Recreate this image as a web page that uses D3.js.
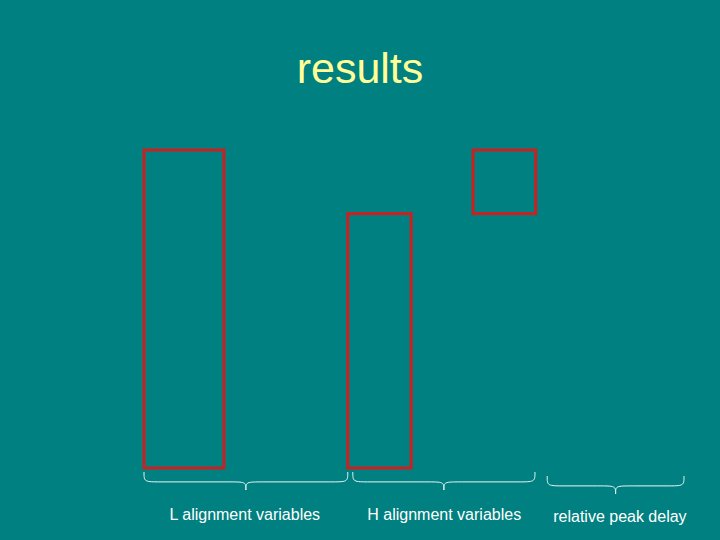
<!DOCTYPE html>
<html lang="en">
<head>
<meta charset="UTF-8">
<title>results</title>
<script src="https://d3js.org/d3.v7.min.js"></script>
<style>
  body { margin: 0; background: #008080; }
</style>
</head>
<body>
<script>
// boxes: start / end along x (slide units), bottom / top values
const boxNames = ["L", "H", "delay"];
const boxX0 = [2.0, 4.83, 6.57];
const boxX1 = [3.11, 5.71, 7.44];
const boxLow = [0, 0, 0.8];
const boxHigh = [1.0, 0.8, 1.0];

// brace groups under the boxes
const groupLabels = ["L alignment variables", "H alignment variables", "relative peak delay"];
const groupX0 = [2.0, 4.9, 7.6];
const groupX1 = [4.83, 7.43, 9.5];
const labelX = [3.4, 6.17, 8.61];

const width = 720, height = 540;

const svg = d3.select("body").append("svg")
    .attr("width", width)
    .attr("height", height)
    .style("background", "#008080")
    .style("display", "block");

const x = d3.scaleLinear().domain([0, 10]).range([0, 720]);
const y = d3.scaleLinear().domain([0, 1]).range([468, 150]);

// title
svg.append("text")
    .attr("x", 360)
    .attr("y", 83)
    .attr("text-anchor", "middle")
    .attr("font-family", "Liberation Sans, Arial, sans-serif")
    .attr("font-size", 43)
    .attr("fill", "#ffff99")
    .text("results");

// boxes
svg.selectAll(".box")
    .data(boxNames)
    .enter()
    .append("rect")
    .attr("class", "box")
    .attr("x", (d, i) => x(boxX0[i]))
    .attr("y", (d, i) => y(boxHigh[i]))
    .attr("width", (d, i) => x(boxX1[i]) - x(boxX0[i]))
    .attr("height", (d, i) => y(boxLow[i]) - y(boxHigh[i]))
    .attr("fill", "none")
    .attr("stroke", "#cc2020")
    .attr("stroke-width", 3);

// curly brace pointing down
function brace(x0, x1, top, h) {
    const mid = (x0 + x1) / 2;
    const yMid = top + h * 0.55;
    const q = Math.min(18, (x1 - x0) / 6);
    return "M" + x0 + "," + top +
        " C" + x0 + "," + yMid + " " + x0 + "," + yMid + " " + (x0 + q) + "," + yMid +
        " L" + (mid - q) + "," + yMid +
        " C" + mid + "," + yMid + " " + mid + "," + yMid + " " + mid + "," + (top + h) +
        " C" + mid + "," + yMid + " " + mid + "," + yMid + " " + (mid + q) + "," + yMid +
        " L" + (x1 - q) + "," + yMid +
        " C" + x1 + "," + yMid + " " + x1 + "," + yMid + " " + x1 + "," + top;
}

const groups = svg.selectAll(".group")
    .data(groupLabels)
    .enter()
    .append("g")
    .attr("class", "group");

groups.append("path")
    .attr("d", (d, i) => brace(x(groupX0[i]), x(groupX1[i]), i === 2 ? 476 : 472, 18))
    .attr("fill", "none")
    .attr("stroke", "#eef8f8")
    .attr("stroke-width", 1);

groups.append("text")
    .attr("x", (d, i) => x(labelX[i]))
    .attr("y", (d, i) => i === 2 ? 522 : 520)
    .attr("text-anchor", "middle")
    .attr("font-family", "Liberation Sans, Arial, sans-serif")
    .attr("font-size", 16)
    .attr("fill", "#ffffff")
    .text(d => d);
</script>
</body>
</html>
